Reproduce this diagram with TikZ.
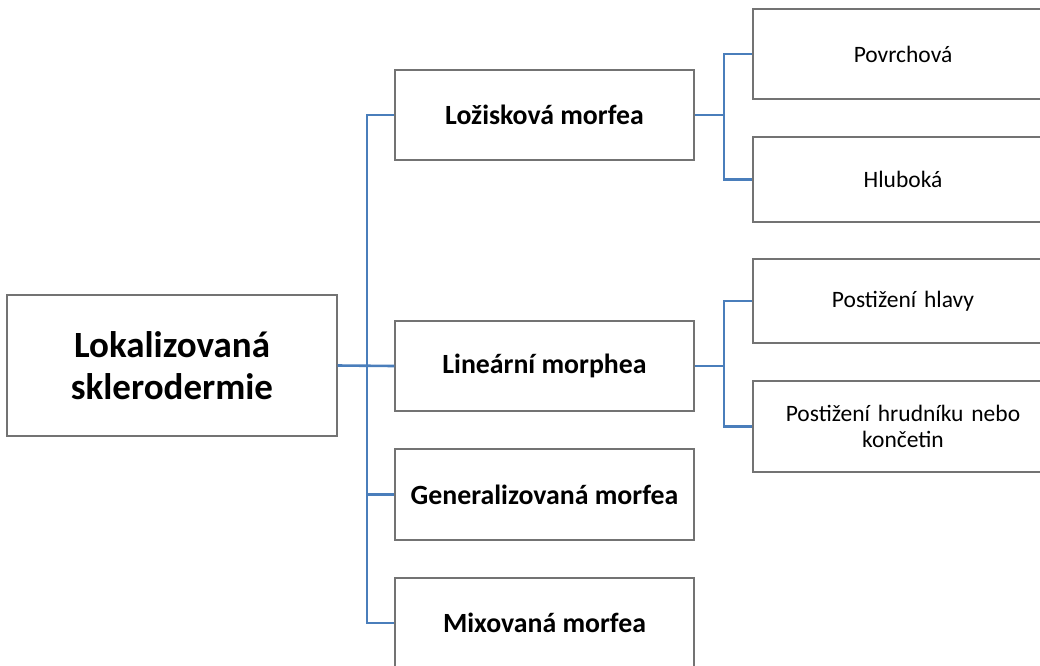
\documentclass[tikz,border=0pt]{standalone}
\usepackage{fontspec}
\setmainfont{Carlito}
\begin{document}
\begin{tikzpicture}[x=1pt,y=-1pt,
  box/.style={draw=black!55,line width=1.3pt,fill=white,inner sep=0pt,align=center},
  conn/.style={draw={rgb,255:red,74;green,126;blue,187},line width=2.6pt},
  lvtwo/.style={box,minimum width=299pt,font=\fontsize{27.8}{32}\selectfont\bfseries},
  lvthree/.style={box,minimum width=300pt,text width=270pt,font=\fontsize{23.5}{25.5}\selectfont}]
\useasboundingbox (0,0) rectangle (1040,665);
\clip (0,0) rectangle (1040,665);
\node[box,minimum width=330pt,minimum height=141pt,font=\fontsize{37}{42}\selectfont\bfseries] (root) at (172,365.5) {Lokalizovaná\\sklerodermie};
\node[lvtwo,minimum height=90pt] (loz) at (544.5,115) {Ložisková morfea};
\node[lvtwo,minimum height=90pt] (lin) at (544.5,366) {Lineární morphea};
\node[lvtwo,minimum height=91pt] (gen) at (544.5,494.5) {Generalizovaná morfea};
\node[lvtwo,minimum height=90pt] (mix) at (544.5,623) {Mixovaná morfea};
\node[lvthree,minimum height=90pt] (pov) at (903,54) {Povrchová};
\node[lvthree,minimum height=85pt] (hlu) at (903,179.5) {Hluboká};
\node[lvthree,minimum height=84pt] (hla) at (903,301) {Postižení hlavy};
\node[lvthree,minimum height=91pt] (hru) at (903,426.5) {Postižení hrudníku nebo\\končetin};
\coordinate (b1) at (367,366);
\coordinate (b2) at (724,116);
\coordinate (b3) at (724,366);
\draw[conn] (root.east) -- (lin.west);
\draw[conn] (loz.west) -| (b1) |- (mix.west);
\draw[conn] (gen.west) -- (b1 |- gen.west);
\draw[conn] (pov.west) -| (b2) |- (hlu.west);
\draw[conn] (loz.east) -- (b2 |- loz.east);
\draw[conn] (hla.west) -| (b3) |- (hru.west);
\draw[conn] (lin.east) -- (b3 |- lin.east);
\end{tikzpicture}
\end{document}
